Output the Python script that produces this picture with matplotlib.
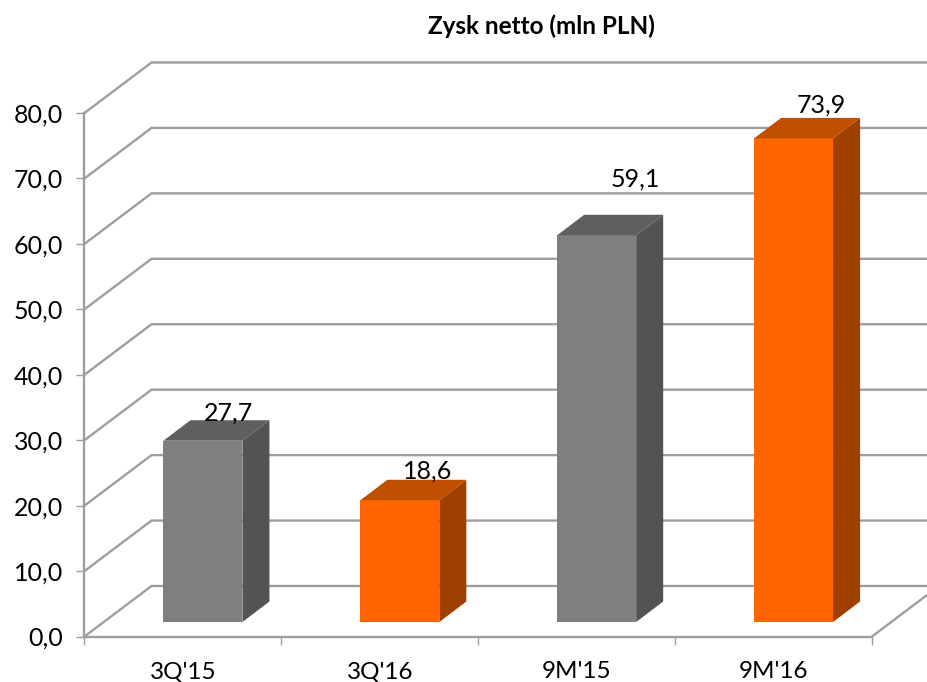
import matplotlib
matplotlib.use('Agg')
import matplotlib.pyplot as plt
from matplotlib.patches import Polygon

plt.rcParams['font.family'] = ['Lato', 'DejaVu Sans']

categories = ["3Q'15", "3Q'16", "9M'15", "9M'16"]
values = [27.7, 18.6, 59.1, 73.9]
value_labels = ['27,7', '18,6', '59,1', '73,9']
y_ticks = [0, 10, 20, 30, 40, 50, 60, 70, 80]
y_tick_labels = ['0,0', '10,0', '20,0', '30,0', '40,0', '50,0', '60,0', '70,0', '80,0']

W, H = 928, 682
LINE = '#9E9E9E'
FACE = ['#7F7F7F', '#FF6600', '#7F7F7F', '#FF6600']
TOP = ['#5F5F5F', '#C04F00', '#5F5F5F', '#C04F00']
SIDE = ['#535353', '#A04000', '#535353', '#A04000']
# label nudges in points, the labels were moved by hand in the original
label_off = [(3.7, -3.3), (5.7, -2.3), (13.4, 17.5), (5.4, 0.9)]

fig = plt.figure(figsize=(W / 100, H / 100), dpi=100)
ax = fig.add_axes([84.5 / W, (H - 636.5) / H, 787.5 / W, 523.5 / H])
ax.set_xlim(0, 4)
ax.set_ylim(0, 80)

# fake 3d depth, in data units
px_x = 4 / 787.5
px_y = 80 / 523.5
depth_x = 67 * px_x
depth_y = 50.5 * px_y
bar_w = 79 * px_x
bar_dx = 20 * px_x
bar_dy = 14.5 * px_y
bar_depth_x = 27 * px_x
bar_depth_y = 20.5 * px_y

for t in y_ticks:
    ax.plot([0, depth_x, 4 + depth_x], [t, t + depth_y, t + depth_y],
            color=LINE, lw=1.7, clip_on=False, zorder=1, solid_joinstyle='miter')
ax.plot([4, 4 + depth_x], [0, depth_y], color=LINE, lw=1.7, clip_on=False, zorder=1)

for i, v in enumerate(values):
    x0 = i + 0.5 - bar_w / 2 + bar_dx
    x1 = x0 + bar_w
    y0 = bar_dy
    y1 = bar_dy + v
    ax.add_patch(Polygon([(x0, y0), (x1, y0), (x1, y1), (x0, y1)], fc=FACE[i], ec='none', zorder=3, clip_on=False))
    ax.add_patch(Polygon([(x1, y0), (x1 + bar_depth_x, y0 + bar_depth_y), (x1 + bar_depth_x, y1 + bar_depth_y), (x1, y1)],
                         fc=SIDE[i], ec='none', zorder=3, clip_on=False))
    ax.add_patch(Polygon([(x0, y1), (x1, y1), (x1 + bar_depth_x, y1 + bar_depth_y), (x0 + bar_depth_x, y1 + bar_depth_y)],
                         fc=TOP[i], ec='none', zorder=3, clip_on=False))
    ax.annotate(value_labels[i], xy=(x0 + bar_w / 2 + bar_depth_x / 2 + bar_depth_x / 4, y1 + bar_depth_y),
                xytext=label_off[i], textcoords='offset points', ha='center', va='bottom',
                fontsize=18, color='black', zorder=5, annotation_clip=False)

for s in ['top', 'right']:
    ax.spines[s].set_visible(False)
for s in ['left', 'bottom']:
    ax.spines[s].set_color(LINE)
    ax.spines[s].set_linewidth(1.7)

ax.set_yticks(y_ticks)
ax.set_yticklabels(y_tick_labels, fontsize=18)
ax.set_xticks([0, 1, 2, 3, 4])
ax.set_xticklabels([])
ax.set_xticks([0.5, 1.5, 2.5, 3.5], minor=True)
ax.set_xticklabels(categories, minor=True, fontsize=17.5)
ax.tick_params(axis='y', length=5.5, width=1, color=LINE, pad=10)
ax.tick_params(axis='x', which='major', length=5.5, width=1, color=LINE)
ax.tick_params(axis='x', which='minor', length=0, pad=18)

fig.text(541.5 / W, 1 - 26.5 / H, 'Zysk netto (mln PLN)', ha='center', va='center',
         fontsize=17.5, fontweight='bold')

fig.savefig('out.png', dpi=100)
